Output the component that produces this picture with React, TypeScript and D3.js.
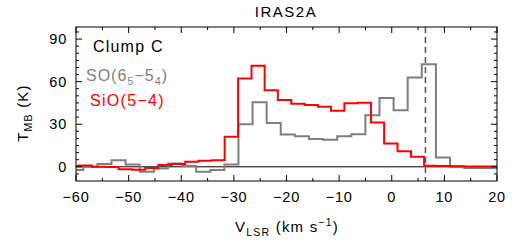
import * as d3 from "d3";
import React from "react";
import { useEffect, RefObject } from "react";

// channel centres (km/s) and main beam temperatures (K)
const sioVel = [-60.7, -58.2, -55.7, -53.2, -50.6, -48.1, -45.6, -43.1, -40.5, -38.0, -35.5, -33.0, -30.5, -27.9, -25.4, -22.9, -20.4, -17.8, -15.3, -12.8, -10.3, -7.7, -5.2, -2.7, -0.2, 2.4, 4.9, 7.4, 9.9, 12.4, 15.0, 17.5, 20.0];
const sioT = [0.5, 1.0, 0.1, -0.2, -1.8, -2.0, -0.8, 1.2, 2.0, 3.5, 4.2, 4.6, 21.1, 62.3, 71.2, 54.0, 47.0, 44.5, 43.5, 42.3, 39.5, 44.7, 45.1, 31.3, 16.5, 11.0, 7.0, 0.7, 0.5, 0.3, 0.2, 0.3, 0.2];

const soVel = [-59.95, -57.27, -54.59, -51.91, -49.23, -46.55, -43.87, -41.19, -38.51, -35.83, -33.15, -30.47, -27.79, -25.11, -22.43, -19.75, -17.07, -14.39, -11.71, -9.03, -6.35, -3.67, -0.99, 1.69, 4.37, 7.05, 9.73, 12.41, 15.09, 17.77, 20.45];
const soT = [-2.3, 0.0, 1.9, 4.7, 1.6, -3.5, -1.2, 2.3, 0.5, -3.5, -2.3, 1.6, 30.0, 45.5, 30.8, 22.8, 21.5, 19.6, 19.0, 21.5, 23.0, 36.3, 48.4, 39.8, 63.0, 72.2, 6.5, 0.5, -0.9, -0.9, -0.9];

const xTicks = [-60, -50, -40, -30, -20, -10, 0, 10, 20];
const yTicks = [0, 30, 60, 90];
const vSys = 6.4;

const FONT = "'Liberation Sans', Arial, Helvetica, sans-serif";

function drawChart(svgRef: RefObject<SVGSVGElement>) {
    const width = 518;
    const height = 242;
    const margin = { top: 27, right: 21, bottom: 61, left: 76 };

    const svg = d3.select(svgRef.current)
        .attr("width", width)
        .attr("height", height)
        .attr("viewBox", "0 0 " + width + " " + height);
    svg.selectAll("*").remove();

    const x = d3.scaleLinear().domain([-60, 20]).range([margin.left, width - margin.right]);
    const y = d3.scaleLinear().domain([-10, 98.5]).range([height - margin.bottom, margin.top]);

    svg.append("defs").append("clipPath").attr("id", "plotclip")
        .append("rect")
        .attr("x", margin.left).attr("y", margin.top)
        .attr("width", width - margin.left - margin.right)
        .attr("height", height - margin.top - margin.bottom);

    // zero line
    svg.append("line")
        .attr("x1", x(-60)).attr("x2", x(20))
        .attr("y1", y(0)).attr("y2", y(0))
        .attr("stroke", "#000").attr("stroke-width", 1);

    const plot = svg.append("g").attr("clip-path", "url(#plotclip)");

    const line = d3.line<[number, number]>()
        .x(d => x(d[0]))
        .y(d => y(d[1]))
        .curve(d3.curveStep);

    // SO first, SiO on top
    plot.append("path")
        .datum(soVel.map((v, i) => [v, soT[i]] as [number, number]))
        .attr("d", line)
        .attr("fill", "none")
        .attr("stroke", "#7f7f7f")
        .attr("stroke-width", 2);

    plot.append("path")
        .datum(sioVel.map((v, i) => [v, sioT[i]] as [number, number]))
        .attr("d", line)
        .attr("fill", "none")
        .attr("stroke", "#ff0000")
        .attr("stroke-width", 2);

    // systemic velocity
    svg.append("line")
        .attr("x1", x(vSys)).attr("x2", x(vSys))
        .attr("y1", margin.top).attr("y2", height - margin.bottom)
        .attr("stroke", "#555").attr("stroke-width", 1.5)
        .attr("stroke-dasharray", "6,4");

    // frame
    svg.append("rect")
        .attr("x", margin.left).attr("y", margin.top)
        .attr("width", width - margin.left - margin.right)
        .attr("height", height - margin.top - margin.bottom)
        .attr("fill", "none").attr("stroke", "#000").attr("stroke-width", 1);

    // ticks, inward on all sides
    const ticks = svg.append("g").attr("stroke", "#000").attr("stroke-width", 1);
    d3.range(-60, 20.1, 5).forEach(v => {
        const len = v % 10 === 0 ? 6 : 3;
        ticks.append("line").attr("x1", x(v)).attr("x2", x(v))
            .attr("y1", y(-10)).attr("y2", y(-10) - len);
        ticks.append("line").attr("x1", x(v)).attr("x2", x(v))
            .attr("y1", y(98.5)).attr("y2", y(98.5) + len);
    });
    d3.range(-5, 98, 5).forEach(t => {
        const len = t % 30 === 0 ? 6 : 3;
        ticks.append("line").attr("x1", x(-60)).attr("x2", x(-60) + len)
            .attr("y1", y(t)).attr("y2", y(t));
        ticks.append("line").attr("x1", x(20)).attr("x2", x(20) - len)
            .attr("y1", y(t)).attr("y2", y(t));
    });

    const label = svg.append("g").style("font-family", FONT).attr("fill", "#000");

    label.selectAll(".xt")
        .data(xTicks)
        .enter().append("text")
        .attr("x", d => x(d))
        .attr("y", 202)
        .attr("text-anchor", "middle")
        .style("font-size", "14.5px")
        .style("letter-spacing", "0.8px")
        .text(d => d < 0 ? "\u2212" + Math.abs(d) : String(d));

    label.selectAll(".yt")
        .data(yTicks)
        .enter().append("text")
        .attr("x", 67)
        .attr("y", d => y(d) + 5)
        .attr("text-anchor", "end")
        .style("font-size", "14.5px")
        .style("letter-spacing", "0.8px")
        .text(d => String(d));

    // title
    label.append("text")
        .attr("x", 286).attr("y", 17)
        .attr("text-anchor", "middle")
        .style("font-size", "15px")
        .style("letter-spacing", "1.5px")
        .text("IRAS2A");

    // x label
    const xl = label.append("text")
        .attr("x", 287).attr("y", 232)
        .attr("text-anchor", "middle")
        .style("font-size", "15px")
        .style("letter-spacing", "1.2px");
    xl.append("tspan").text("V");
    xl.append("tspan").attr("dy", 4).style("font-size", "10.5px").text("LSR");
    xl.append("tspan").attr("dy", -4).text(" (km s");
    xl.append("tspan").attr("dy", -6).style("font-size", "10.5px").text("\u22121");
    xl.append("tspan").attr("dy", 6).text(")");

    // y label
    const yl = label.append("text")
        .attr("transform", "translate(28,113) rotate(-90)")
        .attr("text-anchor", "middle")
        .style("font-size", "15px")
        .style("letter-spacing", "1.2px");
    yl.append("tspan").text("T");
    yl.append("tspan").attr("dy", 4).style("font-size", "10.5px").text("MB");
    yl.append("tspan").attr("dy", -4).text(" (K)");

    // annotations
    label.append("text")
        .attr("x", 93).attr("y", 52)
        .style("font-size", "16px")
        .style("letter-spacing", "1.2px")
        .text("Clump C");

    const so = label.append("text")
        .attr("x", 86).attr("y", 81)
        .attr("fill", "#7f7f7f")
        .style("font-size", "16px")
        .style("letter-spacing", "1px");
    so.append("tspan").text("SO(6");
    so.append("tspan").attr("dy", 4).style("font-size", "11px").text("5");
    so.append("tspan").attr("dy", -4).text("\u22125");
    so.append("tspan").attr("dy", 4).style("font-size", "11px").text("4");
    so.append("tspan").attr("dy", -4).text(")");

    label.append("text")
        .attr("x", 90).attr("y", 106)
        .attr("fill", "#ff0000")
        .style("font-size", "16px")
        .style("letter-spacing", "1.3px")
        .text("SiO(5\u22124)");
}

export default function App() {
    const svg = React.useRef<SVGSVGElement>(null);
    useEffect(() => {
        drawChart(svg);
    });

    return (
        <div style={{ position: "absolute", left: 0, top: 0, background: "#fff" }}>
            <svg ref={svg} style={{ display: "block" }}></svg>
        </div>
    );
}
